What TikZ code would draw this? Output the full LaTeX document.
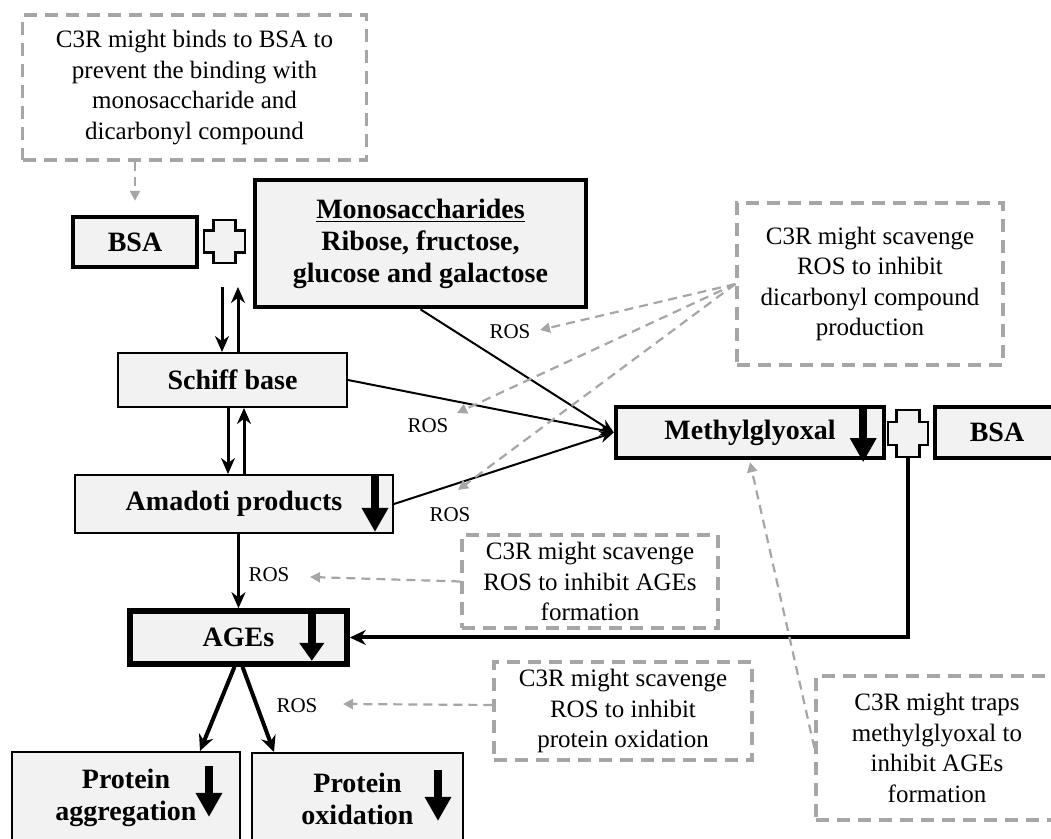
\documentclass[tikz,border=0pt]{standalone}
\usepackage{fontspec}
\setmainfont{Liberation Serif}
\usetikzlibrary{arrows.meta,calc}
\definecolor{boxfill}{HTML}{F2F2F2}
\definecolor{notegray}{HTML}{A6A6A6}

% outlined plus sign around the centre of node #1
% #2 half width, #3 half height, #4 half arm thickness
\newcommand{\crossmark}[4]{%
  \draw[crossline] ([shift={(-#4,#3)}]#1.center) -- ++({2*#4},0) -- ++(0,{-(#3-#4)})
    -- ++({#2-#4},0) -- ++(0,{-2*#4}) -- ++({-(#2-#4)},0) -- ++(0,{-(#3-#4)})
    -- ++({-2*#4},0) -- ++(0,{#3-#4}) -- ++({-(#2-#4)},0) -- ++(0,{2*#4})
    -- ++({#2-#4},0) -- cycle;}

\begin{document}
\begin{tikzpicture}[x=0.5pt,y=-0.5pt,
  stagebox/.style={draw=black, fill=boxfill, line width=1pt, inner sep=0pt,
    align=center, font=\fontsize{14}{16}\selectfont\bfseries},
  heavybox/.style={stagebox, line width=2.2pt},
  notebox/.style={draw=notegray, line width=1.6pt, dash pattern=on 6.5pt off 4pt,
    inner sep=0pt, align=center, font=\fontsize{12.5}{15.3}\selectfont},
  roslabel/.style={inner sep=0pt, font=\fontsize{10.5}{12}\selectfont},
  crossline/.style={draw=black, fill=boxfill, line width=1.3pt, line join=miter},
  flow/.style={draw=black, line width=1.5pt, -{Stealth[length=8pt,width=7pt]}},
  slimflow/.style={draw=black, line width=1pt, -{Stealth[length=7pt,width=6pt]}},
  heavyflow/.style={draw=black, line width=2pt, -{Stealth[length=8pt,width=7.5pt]}},
  blockarrow/.style={draw=black, line width=4pt, -{Triangle[length=12pt,width=12.5pt]}},
  noteflow/.style={draw=notegray, line width=1.1pt, dash pattern=on 4.5pt off 3pt,
    -{Triangle[length=5pt,width=5pt]}},
]
\useasboundingbox (0,0) rectangle (1051,839);

% explanatory notes
\node[notebox, minimum width=172pt, minimum height=72.5pt] (topnote) at (194.5,87.5)
  {C3R might binds to BSA to\\prevent the binding with\\monosaccharide and\\dicarbonyl compound};
\node[notebox, minimum width=133pt, minimum height=81pt] (rosnote) at (870,284)
  {C3R might scavenge\\ROS to inhibit\\dicarbonyl compound\\production};
\node[notebox, minimum width=128pt, minimum height=46.5pt] (agesnote) at (590,581.5)
  {C3R might scavenge\\ROS to inhibit AGEs\\formation};
\node[notebox, minimum width=129pt, minimum height=49pt] (oxnote) at (623,711)
  {C3R might scavenge\\ROS to inhibit\\protein oxidation};
\node[notebox, minimum width=121pt, minimum height=72pt] (trapnote) at (937,748)
  {C3R might traps\\methylglyoxal to\\inhibit AGEs\\formation};

% reaction stages
\node[heavybox, minimum width=62pt, minimum height=25pt] (bsaA) at (135,242) {BSA};
\node[inner sep=0pt, minimum width=20.5pt, minimum height=21.5pt] (plusA) at (224.5,241.5) {};
\node[heavybox, line width=2.4pt, minimum width=165.5pt, minimum height=63.5pt] (mono) at (420.5,243.5)
  {\underline{Monosaccharides}\\Ribose, fructose,\\glucose and galactose};
\node[stagebox, minimum width=114.5pt, minimum height=27pt] (schiff) at (232.5,380) {Schiff base};
\node[stagebox, minimum width=159pt, minimum height=29pt] (amadoti) at (234,504) {Amadoti products};
\node[heavybox, line width=2.8pt, minimum width=108.5pt, minimum height=26.5pt] (ages) at (238.5,637.5) {AGEs};
\node[heavybox, minimum width=134pt, minimum height=25.5pt] (mg) at (750,432.5) {Methylglyoxal};
\node[inner sep=0pt, minimum width=20pt, minimum height=23.5pt] (plusB) at (908,433.5) {};
\node[heavybox, minimum width=62pt, minimum height=25.5pt] (bsaB) at (997,432.5) {BSA};
\node[stagebox, minimum width=114pt, minimum height=46pt] (protagg) at (126,798) {Protein\\aggregation};
\node[stagebox, minimum width=105.5pt, minimum height=46pt] (protox) at (357.5,799) {Protein\\oxidation};

\crossmark{plusA}{10.25pt}{10.75pt}{5.5pt}
\crossmark{plusB}{10pt}{11.75pt}{5.75pt}

% ROS labels
\node[roslabel] (ros1) at (510,332) {ROS};
\node[roslabel] (ros2) at (428,426) {ROS};
\node[roslabel] (ros3) at (450,515) {ROS};
\node[roslabel] (ros4) at (269,575) {ROS};
\node[roslabel] (ros5) at (297,706) {ROS};

% reversible steps
\coordinate (dnTop) at (222,287);
\coordinate (upTop) at (238,287);
\draw[flow] (dnTop) -- (dnTop |- schiff.north);
\draw[flow] (upTop |- schiff.north) -- (upTop);
\draw[flow] ([xshift=-2.25pt]schiff.south) -- ([xshift=-2.25pt]schiff.south |- amadoti.north);
\draw[flow] ([xshift=5.75pt]schiff.south |- amadoti.north) -- ([xshift=5.75pt]schiff.south);

% routes to methylglyoxal
\draw[slimflow] (mono.south) -- (mg.west);
\draw[slimflow] (schiff.east) -- (mg.west);
\draw[slimflow] (amadoti.east) -- (mg.west);

% routes to AGEs and beyond
\draw[flow] (ages.north |- amadoti.south) -- (ages.north);
\draw[heavyflow] (plusB.south) |- (ages.east);
\draw[heavyflow] ([xshift=-2pt]ages.south) -- ([xshift=37pt]protagg.north);
\draw[heavyflow] ([xshift=2pt]ages.south) -- ([xshift=-41.75pt]protox.north);

% decrease markers
\draw[blockarrow] ([xshift=-9.5pt]amadoti.north east) -- ([shift={(-9.5pt,1pt)}]amadoti.south east);
\draw[blockarrow] ([xshift=-11.5pt]mg.north east) -- ([shift={(-11.5pt,-1pt)}]mg.south east);
\draw[blockarrow, -{Triangle[length=9pt,width=12pt]}] ([xshift=-19pt]ages.north east) -- ([shift={(-19pt,3pt)}]ages.south east);
\draw[blockarrow] ([shift={(-16pt,-7.5pt)}]protagg.north east) -- ([shift={(-16pt,-33pt)}]protagg.north east);
\draw[blockarrow] ([shift={(-13pt,-9pt)}]protox.north east) -- ([shift={(-13pt,-34.5pt)}]protox.north east);

% note pointers
\coordinate (tipA) at (540,330);
\coordinate (tipB) at (457,413);
\coordinate (tipC) at (458,490);
\coordinate (tipD) at (310,577);
\coordinate (tipE) at (343,704);
\draw[noteflow] (topnote.south -| bsaA.north) -- ([yshift=7pt]bsaA.north);
\draw[noteflow] (rosnote.west) -- (tipA);
\draw[noteflow] (rosnote.west) -- (tipB);
\draw[noteflow] (rosnote.west) -- (tipC);
\draw[noteflow] (agesnote.west) -- (tipD);
\draw[noteflow] ([yshift=3pt]oxnote.west) -- (tipE);
\draw[noteflow] (trapnote.west) -- ([yshift=-1pt]mg.south);
\end{tikzpicture}
\end{document}
